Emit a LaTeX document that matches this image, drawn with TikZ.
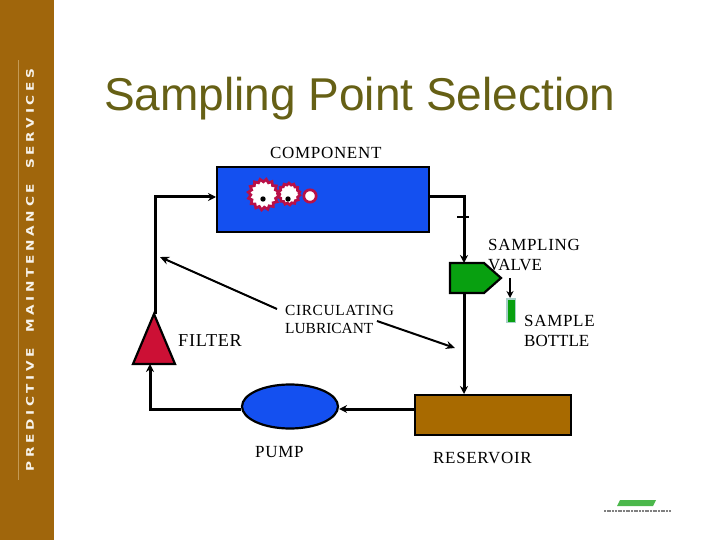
\documentclass[tikz,border=0pt]{standalone}
\usepackage{fontspec}
\setmainfont{Liberation Serif}
\newfontfamily\titlefont{Liberation Sans}
\newfontfamily\brandfont[WordSpace=1.8,LetterSpace=35,FakeStretch=1.3]{DejaVu Sans}
\usetikzlibrary{arrows.meta,shapes.geometric,decorations.pathmorphing}
\definecolor{sidebar}{HTML}{A0660C}
\definecolor{sideline}{HTML}{C49A55}
\definecolor{compblue}{HTML}{1450F0}
\definecolor{gearred}{HTML}{B81048}
\definecolor{filterred}{HTML}{CC1035}
\definecolor{valvegreen}{HTML}{08A010}
\definecolor{resbrown}{HTML}{A86A00}
\definecolor{titleolive}{HTML}{666015}
\definecolor{bottleedge}{HTML}{A8D0C8}
\tikzset{
  x=1pt,y=-1pt,
  pipe/.style={line width=3pt,draw=black,line cap=butt,line join=miter},
  flow/.style={pipe,-{Stealth[length=8pt,width=8pt]}},
  pointer/.style={line width=2pt,draw=black,-{Stealth[length=9pt,width=8pt]}},
  shapeedge/.style={draw=black,line width=2.2pt},
  lab/.style={font=\fontsize{17}{20}\selectfont,align=left,anchor=west,inner sep=0pt,text=black},
  geartooth/.style={fill=white,draw=gearred,line width=2.7pt}
}
\newcommand{\spaced}[1]{\addfontfeatures{LetterSpace=4}#1}
\begin{document}
\begin{tikzpicture}
\useasboundingbox (0,0) rectangle (720,540);
\fill[white] (0,0) rectangle (720,540);
\fill[sidebar] (0,0) rectangle (54,540);
\draw[sideline,line width=0.7pt] (18,60) -- (18,480);
\node[rotate=90,font=\fontsize{10.5}{13}\brandfont\bfseries,text=white!92!sidebar,inner sep=0pt] (brand) at (30,270) {PREDICTIVE MAINTENANCE SERVICES};
\node[font=\fontsize{46}{50}\titlefont,text=titleolive,anchor=west,inner sep=0pt] (title) at (104,99) {Sampling Point Selection};
% equipment
\node[shapeedge,fill=compblue,minimum width=212pt,minimum height=65pt,inner sep=0pt,anchor=north west] (comp) at (216,166) {};
\node[shapeedge,fill=resbrown,minimum width=156pt,minimum height=40pt,inner sep=0pt,anchor=north west] (res) at (414,394) {};
\node[shapeedge,fill=compblue,ellipse,minimum width=96pt,minimum height=44pt,inner sep=0pt] (pump) at (290,406.5) {};
\draw[shapeedge,fill=filterred,line join=miter] (154,314) -- (175,364) -- (133,364) -- cycle;
\coordinate (ftop) at (155,314);
\coordinate (fbot) at (150,364);
\draw[shapeedge,fill=valvegreen] (450,263) -- (484,263) -- (501,278) -- (484,293) -- (450,293) -- cycle;
\coordinate (vtop) at (464,263);
\coordinate (vbot) at (464,293);
% gears
\draw[geartooth,decorate,decoration={zigzag,segment length=5.6pt,amplitude=1.4pt}] (263.5,194.5) circle (14);
\draw[geartooth,decorate,decoration={zigzag,segment length=4.6pt,amplitude=0.9pt}] (289,194) circle (10);
\draw[geartooth] (310,196) circle (6.2);
\fill (263,199) circle (2.7);
\fill (288,199) circle (2.7);
% pipes
\coordinate (tl) at (155,197);
\coordinate (bl) at (150,409);
\coordinate (tr) at (464,197);
\draw[flow] (ftop) -- (tl) -- (comp.west |- tl);
\draw[flow] (pump.west |- bl) -- (bl) -- (fbot);
\draw[flow] (res.west |- 0,409) -- (pump.east |- 0,409);
\draw[flow] (comp.east |- tr) -- (tr) -- (vtop);
\draw[line width=1.8pt] (457,217) -- (469,217);
\draw[flow] (vbot) -- (res.north -| vbot);
% bottle
\node[draw=bottleedge,fill=valvegreen,line width=1.5pt,minimum width=8.5pt,minimum height=23.5pt,inner sep=0pt,anchor=north west] (bottle) at (506,298) {};
\coordinate (dropa) at (510,278);
\draw[line width=1.6pt,-{Stealth[length=7pt,width=7pt]}] (dropa) -- (bottle.north -| dropa);
% pointers
\coordinate (p1a) at (277,309);
\coordinate (p1b) at (160,257);
\coordinate (p2a) at (377,321);
\coordinate (p2b) at (455,348);
\draw[pointer] (p1a) -- (p1b);
\draw[pointer] (p2a) -- (p2b);
% labels
\node[lab] (lcomp) at (270,153) {\spaced{COMPONENT}};
\node[lab] (lsamp) at (488,255) {\spaced{SAMPLING\\VALVE}};
\node[lab] (lbot) at (524,331) {\spaced{SAMPLE\\BOTTLE}};
\node[lab,font=\fontsize{18.2}{20}\selectfont] (lfil) at (178,341) {\spaced{FILTER}};
\node[lab,font=\fontsize{15.4}{18}\selectfont] (lcirc) at (285,319) {\spaced{CIRCULATING\\LUBRICANT}};
\node[lab] (lpump) at (255,452) {\spaced{PUMP}};
\node[lab] (lres) at (433,458) {\spaced{RESERVOIR}};
% logo
\fill[green!60!black!70!white] (620,500) -- (656,500) -- (653,506) -- (617,506) -- cycle;
\draw[gray,line width=1.2pt,dash pattern=on 2pt off 0.7pt] (604,511) -- (671,511);
\end{tikzpicture}
\end{document}
